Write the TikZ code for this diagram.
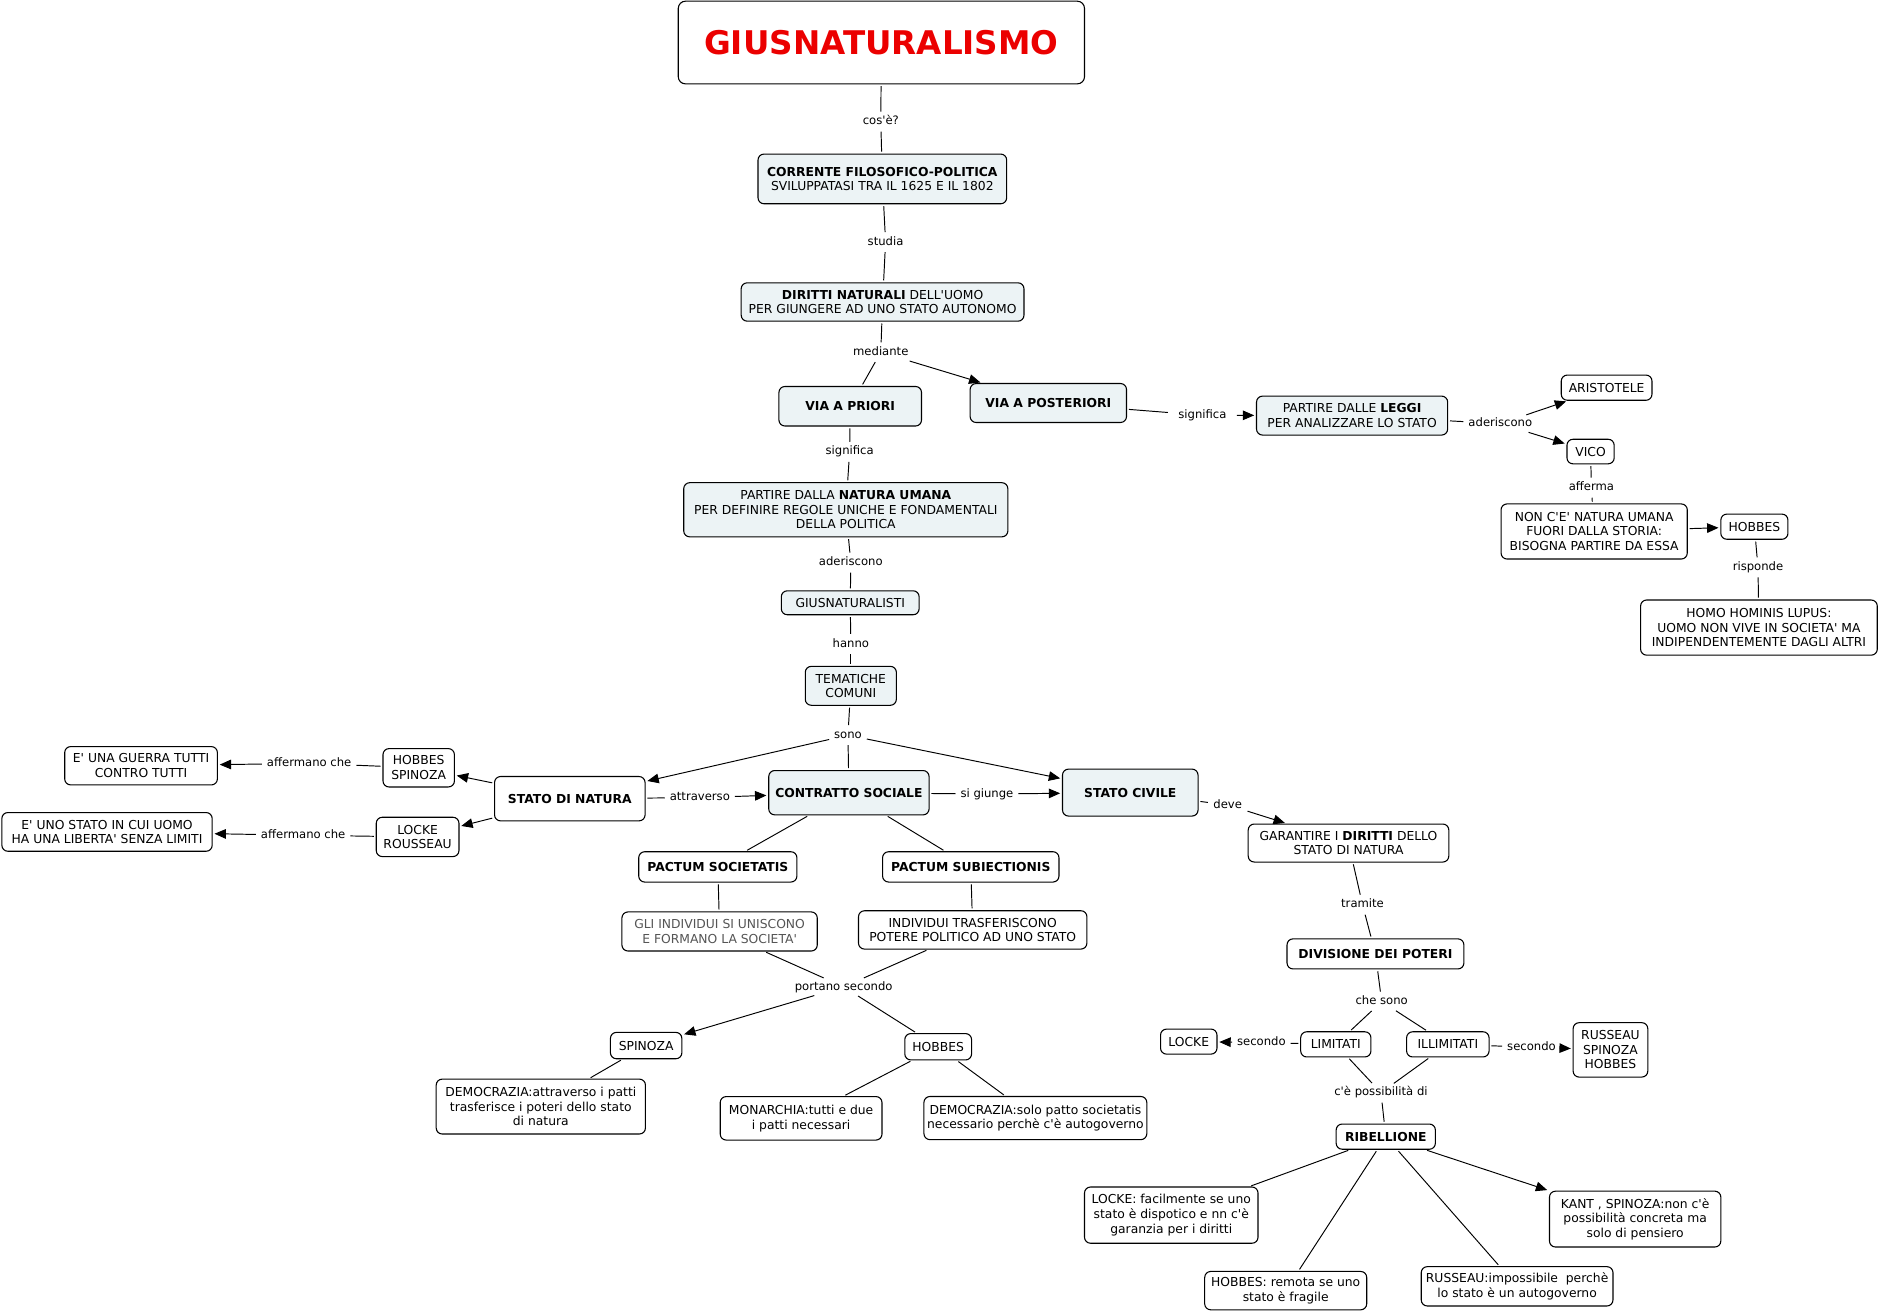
\documentclass[tikz,border=0pt]{standalone}
\usepackage{fontspec}
\setmainfont{DejaVu Sans}[Ligatures=TeXOff]
\usetikzlibrary{arrows.meta}
\definecolor{cfill}{RGB}{236,243,245}
\definecolor{gtext}{RGB}{85,85,85}
\definecolor{tred}{RGB}{235,0,0}
\newcommand\cmfont{\fontsize{10.3}{12.2}\selectfont}
\newcommand\lkfont{\fontsize{9.7}{11.5}\selectfont}
\newcommand\ttlfont{\fontsize{27.2}{30}\selectfont\bfseries}
\begin{document}
\begin{tikzpicture}[x=1pt,y=-1pt,
 concept/.style={draw, line width=0.9pt, rounded corners=5pt, align=center, inner sep=0pt, font=\cmfont, fill=white},
 tinted/.style={fill=cfill},
 sz/.style 2 args={minimum width=#1pt, minimum height=#2pt},
 lbl/.style={font=\lkfont, inner xsep=2.5pt, inner ysep=2pt, text height=7.3pt, text depth=2pt},
 ln/.style={line width=0.8pt, shorten >=1.5pt, shorten <=1.5pt},
 ar/.style={ln, -{Triangle[length=9.5pt,width=8pt]}},
]
\useasboundingbox (0,0) rectangle (1568,1097.3);

% ---------- concepts ----------
\node[concept,rounded corners=6pt,sz={339}{69}] (title) at (735.5,35.5) {\ttlfont\color{tred}GIUSNATURALISMO};
\node[concept,tinted,sz={207.5}{41.5}] (corr) at (736.3,149.3) {\textbf{CORRENTE FILOSOFICO-POLITICA}\\SVILUPPATASI TRA IL 1625 E IL 1802};
\node[concept,tinted,sz={236}{32}] (dir) at (736.5,252) {\textbf{DIRITTI NATURALI} DELL'UOMO\\PER GIUNGERE AD UNO STATO AUTONOMO};
\node[concept,tinted,sz={119}{33}] (priori) at (709.5,339) {\textbf{VIA A PRIORI}};
\node[concept,tinted,sz={130.5}{32.5}] (post) at (874.8,336.3) {\textbf{VIA A POSTERIORI}};
\node[concept,tinted,sz={159.5}{32.5}] (leggi) at (1128.3,346.8) {PARTIRE DALLE \textbf{LEGGI}\\PER ANALIZZARE LO STATO};
\node[concept,sz={75.7}{21}] (arist) at (1340.7,323.5) {ARISTOTELE};
\node[concept,sz={39.4}{20.5}] (vico) at (1327.3,376.8) {VICO};
\node[concept,sz={155.4}{46}] (nonce) at (1330.3,443.5) {NON C'E' NATURA UMANA\\FUORI DALLA STORIA:\\BISOGNA PARTIRE DA ESSA};
\node[concept,sz={56}{21}] (hobA) at (1464,439.5) {HOBBES};
\node[concept,sz={197.5}{46}] (homo) at (1467.8,523.7) {HOMO HOMINIS LUPUS:\\UOMO NON VIVE IN SOCIETA' MA\\INDIPENDENTEMENTE DAGLI ALTRI};
\node[concept,tinted,sz={270.5}{45.2}] (natura) at (705.8,425.4) {PARTIRE DALLA \textbf{NATURA UMANA}\\PER DEFINIRE REGOLE UNICHE E FONDAMENTALI\\DELLA POLITICA};
\node[concept,tinted,sz={115}{20}] (giusn) at (709.5,503) {GIUSNATURALISTI};
\node[concept,tinted,sz={76}{32.5}] (temat) at (710,572.3) {TEMATICHE\\COMUNI};
\node[concept,sz={125.6}{37}] (sdn) at (475.5,666.5) {\textbf{STATO DI NATURA}};
\node[concept,tinted,sz={133.8}{37}] (contr) at (708.4,661.5) {\textbf{CONTRATTO SOCIALE}};
\node[concept,tinted,sz={113.1}{39.2}] (civ) at (943.2,661.4) {\textbf{STATO CIVILE}};
\node[concept,sz={59.6}{32}] (hobspi) at (349.4,640.7) {HOBBES\\SPINOZA};
\node[concept,sz={69}{32.8}] (lockrou) at (348.5,698.4) {LOCKE\\ROUSSEAU};
\node[concept,sz={127.4}{32}] (guerra) at (117.7,639) {E' UNA GUERRA TUTTI\\CONTRO TUTTI};
\node[concept,sz={175.5}{32.3}] (euno) at (89.3,694.2) {E' UNO STATO IN CUI UOMO\\HA UNA LIBERTA' SENZA LIMITI};
\node[concept,sz={132}{25.3}] (psoc) at (599,723.4) {\textbf{PACTUM SOCIETATIS}};
\node[concept,sz={147.2}{25.3}] (psub) at (810.1,723.4) {\textbf{PACTUM SUBIECTIONIS}};
\node[concept,sz={163}{32.6},text=gtext] (gli) at (600.5,777.3) {GLI INDIVIDUI SI UNISCONO\\E FORMANO LA SOCIETA'};
\node[concept,sz={190.6}{32}] (indtr) at (811.7,776) {INDIVIDUI TRASFERISCONO\\POTERE POLITICO AD UNO STATO};
\node[concept,sz={59.6}{22}] (spin) at (539.2,872.5) {SPINOZA};
\node[concept,sz={55.7}{22}] (hobB) at (782.9,873.5) {HOBBES};
\node[concept,sz={174.6}{45.8}] (demo1) at (451.3,923.4) {DEMOCRAZIA:attraverso i patti\\trasferisce i poteri dello stato\\di natura};
\node[concept,sz={135}{36.3}] (monar) at (668.5,933.2) {MONARCHIA:tutti e due\\i patti necessari};
\node[concept,sz={186}{36}] (demo2) at (864,933) {DEMOCRAZIA:solo patto societatis\\necessario perchè c'è autogoverno};
\node[concept,sz={167.4}{31.7}] (garant) at (1125.3,703.5) {GARANTIRE I \textbf{DIRITTI} DELLO\\STATO DI NATURA};
\node[concept,sz={147.6}{25.1}] (divis) at (1147.8,796) {\textbf{DIVISIONE DEI POTERI}};
\node[concept,sz={58.6}{21}] (limit) at (1114.7,871.5) {LIMITATI};
\node[concept,sz={68.8}{21}] (illim) at (1208.2,871.5) {ILLIMITATI};
\node[concept,sz={47.1}{20.9}] (lockeA) at (992,869.2) {LOCKE};
\node[concept,sz={62.3}{45.4}] (russpi) at (1343.9,876.1) {RUSSEAU\\SPINOZA\\HOBBES};
\node[concept,sz={82.8}{21}] (ribel) at (1156.4,948.5) {\textbf{RIBELLIONE}};
\node[concept,sz={144.8}{46.9}] (lockeR) at (977.4,1014) {LOCKE: facilmente se uno\\stato è dispotico e nn c'è\\garanzia per i diritti};
\node[concept,sz={135.2}{32}] (hobR) at (1072.9,1077) {HOBBES: remota se uno\\stato è fragile};
\node[concept,sz={160}{32.8}] (russR) at (1266,1073.4) {RUSSEAU:impossibile~ perchè\\lo stato è un autogoverno};
\node[concept,sz={143}{46.6}] (kant) at (1364.5,1017.3) {KANT , SPINOZA:non c'è\\possibilità concreta ma\\solo di pensiero};

% ---------- linking phrases ----------
\node[lbl] (lcos) at (735,101.5) {cos'è?};
\node[lbl] (lstud) at (739,202) {studia};
\node[lbl] (lmed) at (735,294) {mediante};
\node[lbl] (lsig1) at (709,377) {significa};
\node[lbl,inner xsep=7pt] (lsig2) at (1003.4,346.5) {significa};
\node[lbl] (lade1) at (1252,353.5) {aderiscono};
\node[lbl] (laff) at (1328,407) {afferma};
\node[lbl] (lrisp) at (1467,473.5) {risponde};
\node[lbl] (lade2) at (710,469.5) {aderiscono};
\node[lbl] (lhan) at (710,537.4) {hanno};
\node[lbl] (lsono) at (707.6,613.5) {sono};
\node[lbl] (lattr) at (584,665.6) {attraverso};
\node[lbl] (lgiun) at (823.6,662.6) {si giunge};
\node[lbl,inner xsep=3pt] (ldeve) at (1024.5,671.7) {deve};
\node[lbl] (laffA) at (258,637) {affermano che};
\node[lbl] (laffB) at (253,697) {affermano che};
\node[lbl] (lport) at (704,823.5) {portano secondo};
\node[lbl] (ltram) at (1137,755) {tramite};
\node[lbl] (lche) at (1153,835.8) {che sono};
\node[lbl] (lsecL) at (1052.6,870) {secondo};
\node[lbl] (lsecR) at (1278,873.8) {secondo};
\node[lbl] (lposs) at (1152.4,911.8) {c'è possibilità di};

% ---------- connectors ----------
\draw[ln] (title) -- (lcos);
\draw[ln] (lcos) -- (corr);
\draw[ln] (corr) -- (lstud);
\draw[ln] (lstud) -- (dir);
\draw[ln] (dir) -- (lmed);
\draw[ln] (lmed) -- (priori);
\draw[ar] (lmed) -- (post);
\draw[ln] (post) -- (lsig2);
\draw[ar] (lsig2) -- (leggi);
\draw[ln] (leggi) -- (lade1);
\draw[ar] (lade1) -- (arist);
\draw[ar] (lade1) -- (vico);
\draw[ln] (vico) -- (laff);
\draw[ln] (laff) -- (nonce);
\draw[ar] (nonce) -- (hobA);
\draw[ln] (hobA) -- (lrisp);
\draw[ln] (lrisp) -- (homo);
\draw[ln] (priori) -- (lsig1);
\draw[ln] (lsig1) -- (natura);
\draw[ln] (natura) -- (lade2);
\draw[ln] (lade2) -- (giusn);
\draw[ln] (giusn) -- (lhan);
\draw[ln] (lhan) -- (temat);
\draw[ln] (temat) -- (lsono);
\draw[ar] (lsono) -- (sdn);
\draw[ln] (lsono) -- (contr);
\draw[ar] (lsono) -- (civ);
\draw[ln] (sdn) -- (lattr);
\draw[ar] (lattr) -- (contr);
\draw[ln] (contr) -- (lgiun);
\draw[ar] (lgiun) -- (civ);
\draw[ln] (civ) -- (ldeve);
\draw[ar] (ldeve) -- (garant);
\draw[ar] (sdn) -- (hobspi);
\draw[ar] (sdn) -- (lockrou);
\draw[ln] (hobspi) -- (laffA);
\draw[ar] (laffA) -- (guerra);
\draw[ln] (lockrou) -- (laffB);
\draw[ar] (laffB) -- (euno);
\draw[ln] (contr) -- (psoc);
\draw[ln] (contr) -- (psub);
\draw[ln] (psoc) -- (gli);
\draw[ln] (psub) -- (indtr);
\draw[ln] (gli) -- (lport);
\draw[ln] (indtr) -- (lport);
\draw[ar] (lport) -- (spin);
\draw[ln] (lport) -- (hobB);
\draw[ln] (spin) -- (demo1);
\draw[ln] (hobB) -- (monar);
\draw[ln] (hobB) -- (demo2);
\draw[ln] (garant) -- (ltram);
\draw[ln] (ltram) -- (divis);
\draw[ln] (divis) -- (lche);
\draw[ln] (lche) -- (limit);
\draw[ln] (lche) -- (illim);
\draw[ln] (limit) -- (lsecL);
\draw[ar] (lsecL) -- (lockeA);
\draw[ln] (illim) -- (lsecR);
\draw[ar] (lsecR) -- (russpi);
\draw[ln] (limit) -- (lposs);
\draw[ln] (illim) -- (lposs);
\draw[ln] (lposs) -- (ribel);
\draw[ln] (ribel) -- (lockeR);
\draw[ln] (ribel) -- (hobR);
\draw[ln] (ribel) -- (russR);
\draw[ar] (ribel) -- (kant);
\end{tikzpicture}
\end{document}
